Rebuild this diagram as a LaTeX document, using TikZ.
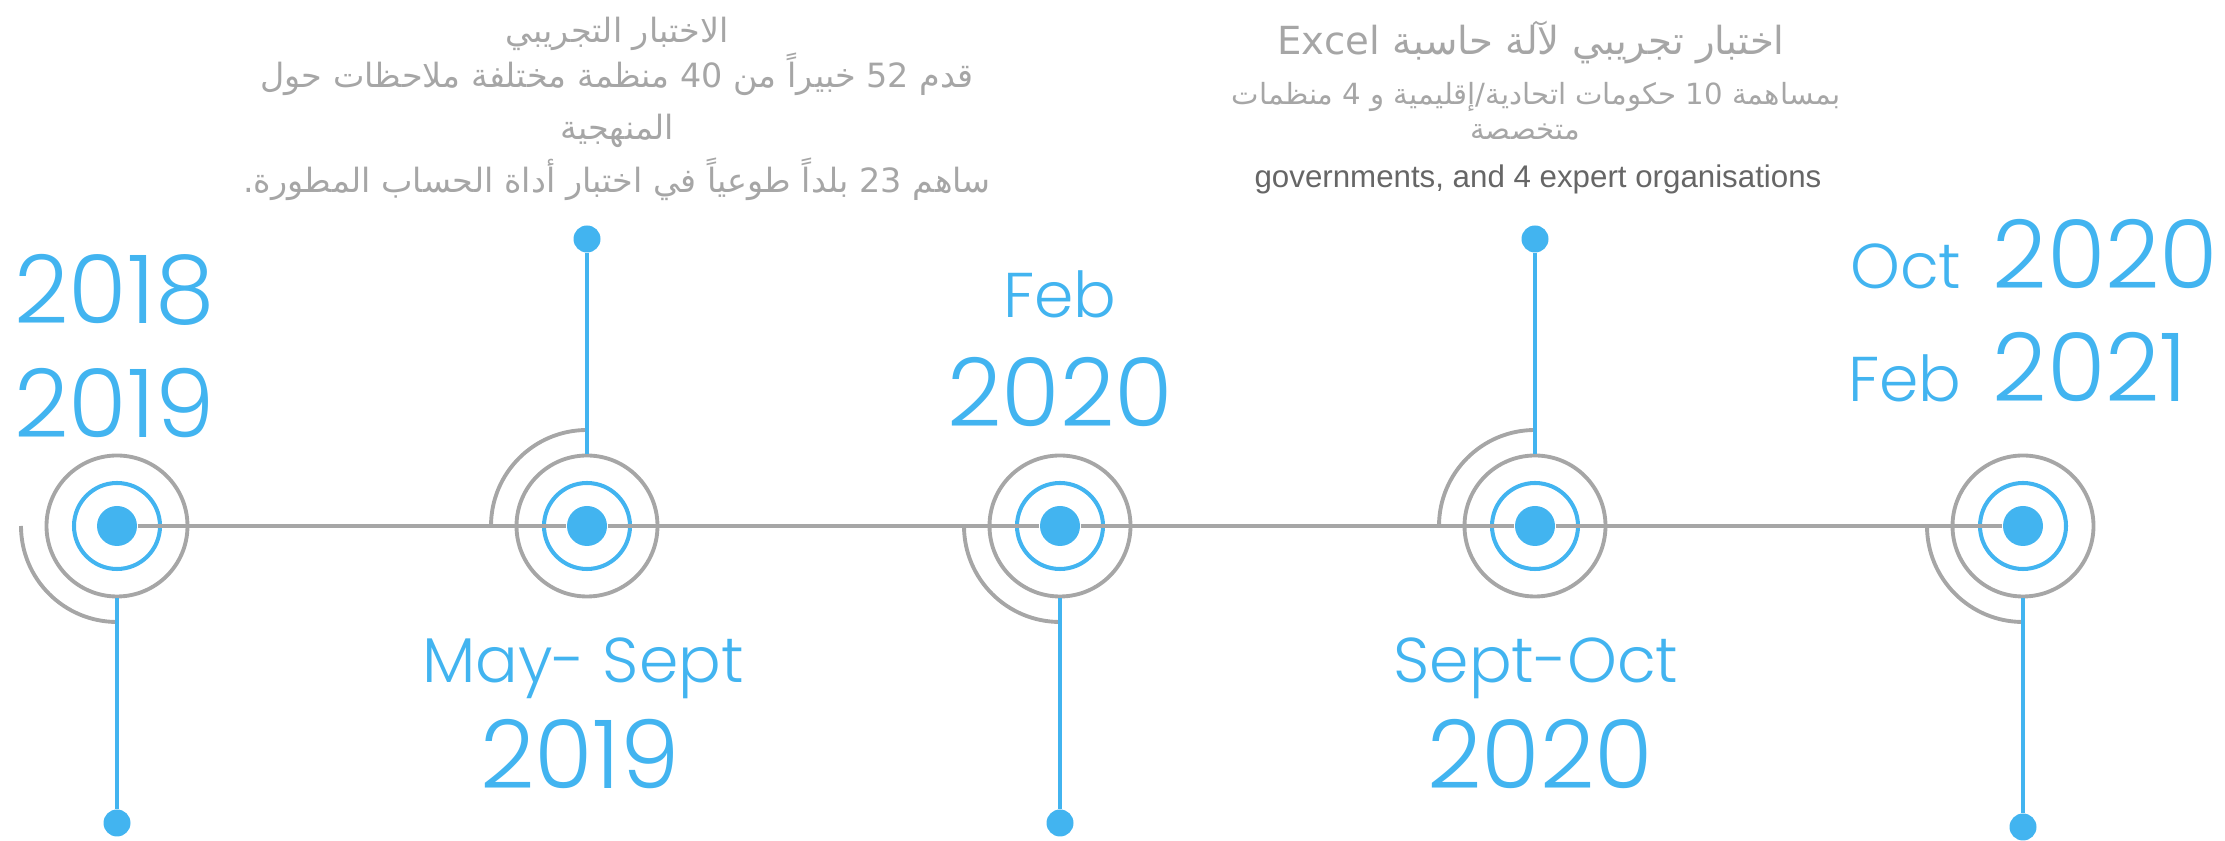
\documentclass[tikz,border=0pt]{standalone}
\usepackage{fontspec}
\usetikzlibrary{positioning}
\TeXXeTstate=1
\newfontfamily\datefont{Poppins Light}
\newfontfamily\arabicfont[Script=Arabic]{DejaVu Sans}
\newfontfamily\latinfont{Liberation Sans}
\definecolor{tlblue}{HTML}{42B4F0}
\definecolor{tlgray}{HTML}{A6A6A6}
\definecolor{notegray}{HTML}{666666}

\tikzset{
	hub/.style={circle, fill=tlblue, inner sep=0pt, minimum size=0.40cm},
	inring/.style={circle, draw=tlblue, line width=1.15pt, inner sep=0pt, minimum size=0.86cm},
	outring/.style={circle, draw=tlgray, line width=1.1pt, inner sep=0pt, minimum size=1.41cm},
	tip/.style={circle, fill=tlblue, inner sep=0pt, minimum size=0.27cm},
	stem/.style={draw=tlblue, line width=1.15pt},
	axis/.style={draw=tlgray, line width=1.1pt},
	halo/.style={draw=tlgray, line width=1.1pt},
	year/.style={text=tlblue, inner sep=0pt, font=\datefont\fontsize{27}{30}\selectfont},
	month/.style={text=tlblue, inner sep=0pt, font=\datefont\fontsize{18}{20}\selectfont},
	note/.style={text=tlgray, inner sep=0pt, anchor=base, font=\arabicfont\fontsize{9.5}{12}\selectfont}
}

\begin{document}
\begin{tikzpicture}
	\useasboundingbox (0,0) rectangle (22.25,-8.41);

	\node[hub](m1) at (1.17,-5.26){};
	\node[hub](m2) at (5.87,-5.26){};
	\node[hub](m3) at (10.60,-5.26){};
	\node[hub](m4) at (15.35,-5.26){};
	\node[hub](m5) at (20.23,-5.26){};

	\node[inring](m1_in) at (m1){};
	\node[inring](m2_in) at (m2){};
	\node[inring](m3_in) at (m3){};
	\node[inring](m4_in) at (m4){};
	\node[inring](m5_in) at (m5){};

	\node[outring](m1_out) at (m1){};
	\node[outring](m2_out) at (m2){};
	\node[outring](m3_out) at (m3){};
	\node[outring](m4_out) at (m4){};
	\node[outring](m5_out) at (m5){};

	\draw[axis] (m1) -- (m2) -- (m3) -- (m4) -- (m5);

	\draw[halo] (m1.center) ++(-0.96,0) arc[start angle=180, end angle=270, radius=0.96];
	\draw[halo] (m2.center) ++(-0.96,0) arc[start angle=180, end angle=90, radius=0.96];
	\draw[halo] (m3.center) ++(-0.96,0) arc[start angle=180, end angle=270, radius=0.96];
	\draw[halo] (m4.center) ++(-0.96,0) arc[start angle=180, end angle=90, radius=0.96];
	\draw[halo] (m5.center) ++(-0.96,0) arc[start angle=180, end angle=270, radius=0.96];

	\node[tip](t1) at (1.17,-8.23){};
	\node[tip](t2) at (5.87,-2.39){};
	\node[tip](t3) at (10.60,-8.23){};
	\node[tip](t4) at (15.35,-2.39){};
	\node[tip](t5) at (20.23,-8.27){};

	\draw[stem] (m1_out) -- (t1);
	\draw[stem] (m2_out) -- (t2);
	\draw[stem] (m3_out) -- (t3);
	\draw[stem] (m4_out) -- (t4);
	\draw[stem] (m5_out) -- (t5);

	\node[year, anchor=base west](y2018) at (0.14,-3.24){2018};
	\node[year, anchor=base west](y2019a) at (0.14,-4.38){2019};

	\node[month, anchor=base](maysept) at (5.83,-6.83){May- Sept};
	\node[year, anchor=base](y2019b) at (5.80,-7.89){2019};

	\node[month, anchor=base](feb20) at (10.60,-3.18){Feb};
	\node[year, anchor=base](y2020a) at (10.60,-4.27){2020};

	\node[month, anchor=base](septoct) at (15.36,-6.83){Sept-Oct};
	\node[year, anchor=base](y2020b) at (15.40,-7.89){2020};

	\node[year, anchor=base west](y2020c) at (19.92,-2.89){2020};
	\node[month, base left=0.3cm of y2020c](oct20){Oct};
	\node[year, anchor=base west](y2021) at (19.92,-4.02){2021};
	\node[month, base left=0.3cm of y2021](feb21){Feb};

	\node[note](pilot_a) at (6.17,-0.43){\beginR الاختبار التجريبي\endR};
	\node[note](pilot_b) at (6.17,-0.88){\beginR قدم \beginL52\endL{} خبيراً من \beginL40\endL{} منظمة مختلفة ملاحظات حول\endR};
	\node[note](pilot_c) at (6.17,-1.40){\beginR المنهجية\endR};
	\node[note](pilot_d) at (6.17,-1.93){\beginR ساهم \beginL23\endL{} بلداً طوعياً في اختبار أداة الحساب المطورة.\endR};

	\node[note, font=\arabicfont\fontsize{11}{13}\selectfont](excel_a) at (15.31,-0.55){\beginR اختبار تجريبي لآلة حاسبة \beginL Excel\endL\endR};
	\node[note, font=\arabicfont\fontsize{8.3}{11}\selectfont](excel_b) at (15.36,-1.05){\beginR بمساهمة \beginL10\endL{} حكومات اتحادية/إقليمية و \beginL4\endL{} منظمات\endR};
	\node[note, font=\arabicfont\fontsize{8.3}{11}\selectfont](excel_c) at (15.25,-1.40){\beginR متخصصة\endR};
	\node[note, text=notegray, font=\latinfont\fontsize{8.9}{11}\selectfont](excel_d) at (15.38,-1.88){governments, and 4 expert organisations};
\end{tikzpicture}
\end{document}
